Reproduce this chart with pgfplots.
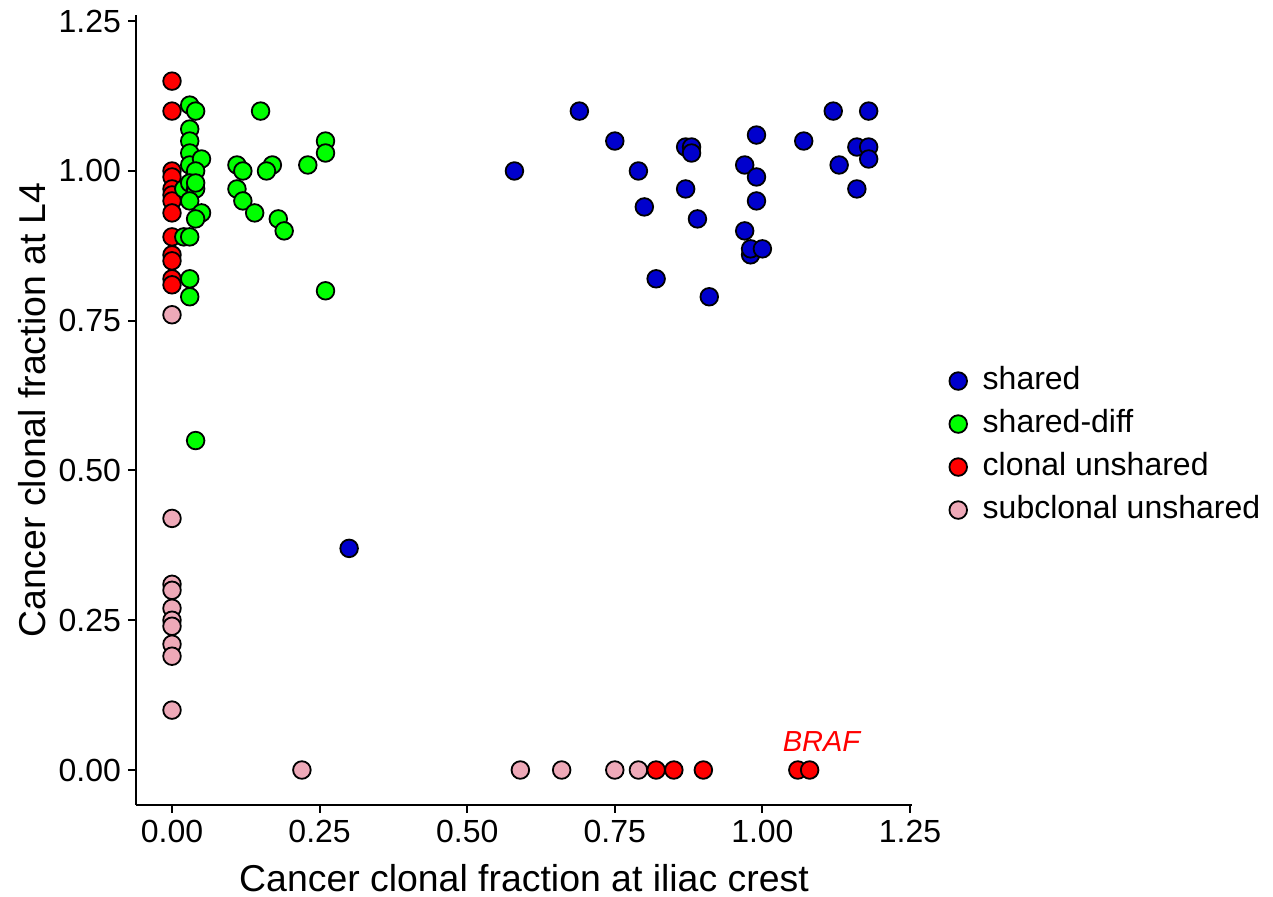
\documentclass[border=0pt]{standalone}
\usepackage{fontspec}
\setmainfont{Liberation Sans}
\usepackage{pgfplots}
\pgfplotsset{compat=1.18}

\definecolor{cshared}{RGB}{0,0,205}
\definecolor{cdiff}{RGB}{0,255,0}
\definecolor{cclonal}{RGB}{255,0,0}
\definecolor{csub}{RGB}{238,169,184}

\pgfplotsset{
  dot/.style={only marks, mark=*, mark size=4.4pt,
    mark options={draw=black, line width=0.9pt, fill=#1},
    legend image code/.code={%
      \draw[mark repeat=2, mark phase=2, ##1]
        plot coordinates {(0cm,0cm) (0.3cm,0cm) (0.6cm,0cm)};
      \path (0.6cm+2.5pt,0cm);}},
}

\begin{document}
\begin{tikzpicture}
\path[use as bounding box] (-68pt,-46pt) rectangle (568.5pt,402.5pt);
\begin{axis}[
  at={(0,0)}, anchor=south west,
  scale only axis, width=388pt, height=395pt,
  xmin=-0.0610, xmax=1.2534, ymin=-0.0584, ymax=1.2604,
  axis lines=left, axis line style={-, line width=1pt},
  tick align=outside, major tick length=4pt,
  tick style={black, line width=1pt},
  xtick={0,0.25,0.5,0.75,1,1.25}, ytick={0,0.25,0.5,0.75,1,1.25},
  /pgf/number format/assume math mode=true,
  ticklabel style={font=\fontsize{16}{19}\selectfont,
    /pgf/number format/fixed, /pgf/number format/fixed zerofill,
    /pgf/number format/precision=2},
  clip=false,
  xlabel={Cancer clonal fraction at iliac crest},
  ylabel={Cancer clonal fraction at L4},
  label style={font=\fontsize{18.7}{22}\selectfont},
  x label style={at={(axis description cs:0.5,-0.0924)}, anchor=center},
  y label style={at={(axis description cs:-0.134,0.5)}, anchor=center},
  legend cell align=left,
  legend style={at={(axis description cs:1.04,0.4550)}, anchor=west,
    draw=none, fill=none, font=\fontsize{16}{19}\selectfont,
    row sep=4.5pt, nodes={inner sep=1pt, text height=11.5pt, text depth=3.5pt}},
]
% legend entries in display order
\addlegendimage{dot=cshared}\addlegendentry{shared}
\addlegendimage{dot=cdiff}\addlegendentry{shared-diff}
\addlegendimage{dot=cclonal}\addlegendentry{clonal unshared}
\addlegendimage{dot=csub}\addlegendentry{subclonal unshared}

% subclonal unshared
\addplot[dot=csub, forget plot] coordinates {
  (0,0.76) (0,0.42) (0,0.31) (0,0.30) (0,0.27) (0,0.25) (0,0.24)
  (0,0.21) (0,0.19) (0,0.10)
  (0.22,0) (0.59,0) (0.66,0) (0.75,0) (0.79,0)
};
% clonal unshared
\addplot[dot=cclonal, forget plot] coordinates {
  (0,1.15) (0,1.10) (0,1.00) (0,0.99) (0,0.97) (0,0.96) (0,0.95)
  (0,0.93) (0,0.89) (0,0.86) (0,0.85) (0,0.82) (0,0.81)
  (0.82,0) (0.85,0) (0.90,0) (1.06,0) (1.08,0)
};
% shared-diff
\addplot[dot=cdiff, forget plot] coordinates {
  (0.03,1.11) (0.04,1.10) (0.03,1.07) (0.03,1.05) (0.03,1.03)
  (0.03,1.01) (0.05,1.02) (0.04,1.00) (0.02,0.97) (0.03,0.98)
  (0.04,0.97) (0.04,0.98) (0.03,0.95) (0.05,0.93) (0.04,0.92)
  (0.02,0.89) (0.03,0.89) (0.03,0.82) (0.03,0.79) (0.04,0.55)
  (0.11,1.01) (0.12,1.00) (0.11,0.97) (0.12,0.95) (0.14,0.93)
  (0.17,1.01) (0.16,1.00) (0.15,1.10) (0.18,0.92) (0.19,0.90)
  (0.23,1.01) (0.26,1.05) (0.26,1.03) (0.26,0.80)
};
% shared
\addplot[dot=cshared, forget plot] coordinates {
  (0.69,1.10) (0.75,1.05) (0.58,1.00) (0.79,1.00) (0.80,0.94)
  (0.82,0.82) (0.87,1.04) (0.88,1.04) (0.88,1.03) (0.87,0.97)
  (0.89,0.92) (0.91,0.79) (0.99,1.06) (0.97,1.01) (0.99,0.99)
  (0.99,0.95) (0.97,0.90) (0.98,0.86) (0.98,0.87) (1.00,0.87)
  (1.07,1.05) (1.12,1.10) (1.18,1.10) (1.13,1.01) (1.16,1.04)
  (1.18,1.04) (1.18,1.02) (1.16,0.97) (0.30,0.37)
};
\node[text=cclonal, font=\fontsize{14.5}{17}\selectfont\itshape]
  at (axis cs:1.10,0.048) {BRAF};
\end{axis}
\end{tikzpicture}
\end{document}
